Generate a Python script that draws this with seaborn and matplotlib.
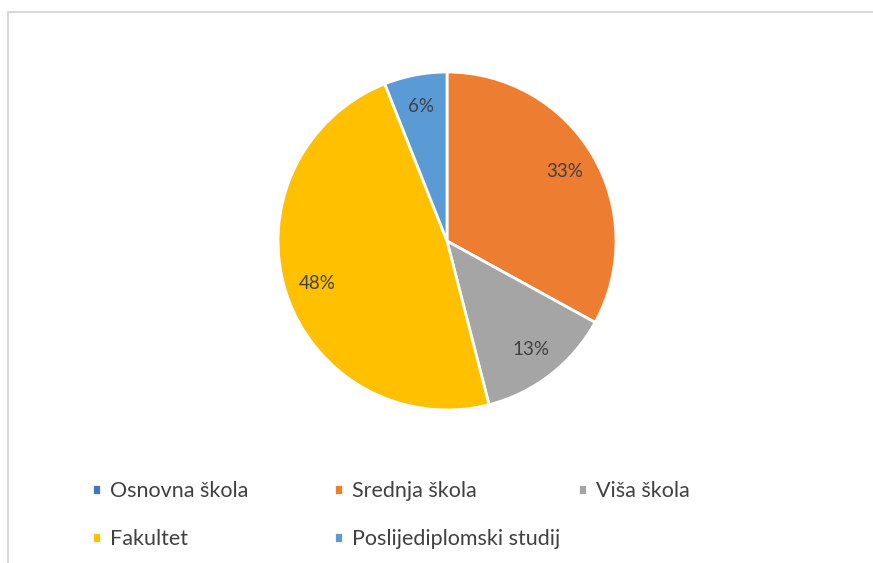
import matplotlib
matplotlib.use("Agg")
import matplotlib.pyplot as plt
from matplotlib.lines import Line2D
import seaborn as sns

# data
categories = ["Osnovna škola", "Srednja škola", "Viša škola", "Fakultet", "Poslijediplomski studij"]
shares = [0, 33, 13, 48, 6]
colors = ["#4472C4", "#ED7D31", "#A5A5A5", "#FFC000", "#5B9BD5"]

sns.set_theme(style="white")
plt.rcParams["font.family"] = ["Lato", "DejaVu Sans"]

W, H = 873, 563
fig = plt.figure(figsize=(W / 100, H / 100), dpi=100)

# pie axes: centre (447, 241), radius ~169 px
cx, cy, r = 447, 241, 169
ax = fig.add_axes([(cx - r) / W, 1 - (cy + r) / H, 2 * r / W, 2 * r / H])


def pct_label(p):
    return "" if p < 0.5 else f"{p:.0f}%"


wedges, texts, autotexts = ax.pie(
    shares, colors=sns.color_palette(colors), startangle=90, counterclock=False,
    autopct=pct_label, pctdistance=0.81,
    wedgeprops=dict(edgecolor="white", linewidth=2),
    textprops=dict(color="#404040", fontsize=13.5),
)
ax.set_aspect("equal")
ax.set_xlim(-1, 1)
ax.set_ylim(-1, 1)

# legend: one small legend per column, rows in Excel order
cols_x = [92, 334, 578]
cols = [[0, 3], [1, 4], [2]]
for x, idx in zip(cols_x, cols):
    fig.legend(
        [wedges[i] for i in idx], [categories[i] for i in idx],
        loc="upper left", bbox_to_anchor=(x / W, 1 - 481 / H),
        frameon=False, fontsize=15.5, handlelength=0.42, handleheight=0.42,
        handletextpad=0.42, labelspacing=1.3, labelcolor="#404040",
        borderaxespad=0, borderpad=0,
    )

# chart frame (light grey, left and top edges visible)
fig.add_artist(Line2D([8 / W, 8 / W], [0, 1 - 12 / H], color="#d9d9d9", lw=1.5))
fig.add_artist(Line2D([8 / W, 1], [1 - 12 / H, 1 - 12 / H], color="#d9d9d9", lw=1.5))

fig.savefig("out.png", dpi=100, facecolor="white")
